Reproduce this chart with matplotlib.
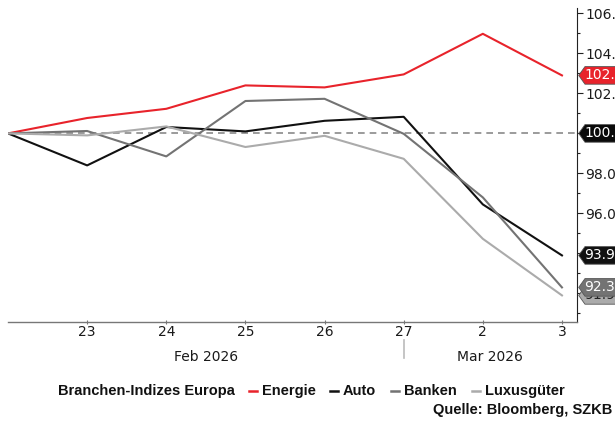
import matplotlib.pyplot as plt
from matplotlib.patches import Polygon
from matplotlib.lines import Line2D
import matplotlib.transforms as mtransforms

# Data (index 100 = 20 Feb 2026)
dates = ['20', '23', '24', '25', '26', '27', '2', '3']
months = [('Feb 2026', 0, 5), ('Mar 2026', 5, 7.19)]
energie = [100.0, 100.77, 101.23, 102.4, 102.3, 102.95, 104.98, 102.9]
auto = [100.0, 98.4, 100.32, 100.1, 100.63, 100.83, 96.45, 93.9]
banken = [100.0, 100.12, 98.85, 101.62, 101.73, 99.98, 96.8, 92.3]
luxus = [100.0, 99.9, 100.35, 99.32, 99.88, 98.73, 94.73, 91.9]
baseline = 100.0

series = [
    ('Energie', energie, '#e8232b', 'white'),
    ('Auto', auto, '#111111', 'white'),
    ('Banken', banken, '#737373', 'white'),
    ('Luxusgüter', luxus, '#ababab', '#222222'),
]

W, H = 615, 430
fig = plt.figure(figsize=(W / 100, H / 100), dpi=100)
ax = fig.add_axes([8 / W, 1 - 322 / H, (577 - 8) / W, (322 - 8) / H])

x = list(range(len(dates)))
ax.axhline(baseline, color='#8a8a8a', lw=1.2, ls=(0, (4, 3)), zorder=1)
for name, vals, col, _ in series:
    ax.plot(x, vals, color=col, lw=1.5, zorder=3)

ax.set_xlim(0, 7.19)
ax.set_ylim(90.57, 106.27)

# right y axis
major = [92, 94, 96, 98, 100, 102, 104, 106]
ax.yaxis.tick_right()
ax.set_yticks(major)
ax.set_yticklabels([f'{v:.1f}' for v in major])
ax.set_yticks([91, 93, 95, 97, 99, 101, 103, 105], minor=True)
ax.tick_params(axis='y', which='major', length=4, width=0.8, color='#222222',
               labelsize=10, labelcolor='#1a1a1a', pad=2)
ax.tick_params(axis='y', which='minor', length=2.5, width=0.8, color='#222222')

ax.set_xticks(x[1:])
ax.set_xticklabels(dates[1:])
ax.tick_params(axis='x', which='major', length=3, width=0.8, color='#777777',
               direction='inout', labelsize=10, labelcolor='#1a1a1a', pad=1)

for s in ['top', 'left']:
    ax.spines[s].set_visible(False)
ax.spines['bottom'].set_color('#777777')
ax.spines['right'].set_color('#222222')
ax.spines['bottom'].set_linewidth(1.0)
ax.spines['right'].set_linewidth(0.8)

# month labels under the day ticks
tr = mtransforms.blended_transform_factory(ax.transData, ax.transAxes)
for label, a, b in months:
    ax.text((a + b) / 2, -0.112, label, transform=tr, ha='center', va='center',
            fontsize=10, color='#1a1a1a', clip_on=False)
ax.add_line(Line2D([5, 5], [-0.058, -0.115], transform=tr, color='#bbbbbb',
                   lw=1.2, clip_on=False))

# value tags on the right axis
ty = mtransforms.blended_transform_factory(ax.transAxes, ax.transData)
tags = [(baseline, '#0a0a0a', 'white')] + [(v[-1], c, tc) for _, v, c, tc in series]
order = [tags[0], tags[1], tags[2], tags[4], tags[3]]
for i, (val, col, tcol) in enumerate(order):
    h = 0.44
    poly = Polygon([(1.003, val), (1.014, val + h), (1.2, val + h),
                    (1.2, val - h), (1.014, val - h)], closed=True,
                   transform=ty, facecolor=col, edgecolor='#555555', lw=0.6,
                   clip_on=False, zorder=5 + i)
    ax.add_patch(poly)
    ax.text(1.013, val, f'{val:.1f}', transform=ty, ha='left', va='center',
            fontsize=10, color=tcol, clip_on=False, zorder=5 + i)

# legend line
bold = dict(fontsize=10.5, fontweight='bold', color='#111111',
            family=['Liberation Sans', 'DejaVu Sans'])
ypix = H - 391
fig.text(58 / W, ypix / H, 'Branchen-Indizes Europa', ha='left', va='center', **bold)
dash_x = [249, 330, 391, 472]
for (name, vals, col, _), dx in zip(series, dash_x):
    fig.add_artist(Line2D([dx / W, (dx + 8) / W], [ypix / H, ypix / H],
                          transform=fig.transFigure, color=col, lw=1.8))
    fig.text((dx + 13) / W, ypix / H, name, ha='left', va='center', **bold)

fig.text(612 / W, 1 - 410 / H, 'Quelle: Bloomberg, SZKB', ha='right',
         va='center', **bold)

fig.savefig('out.png', dpi=100)
